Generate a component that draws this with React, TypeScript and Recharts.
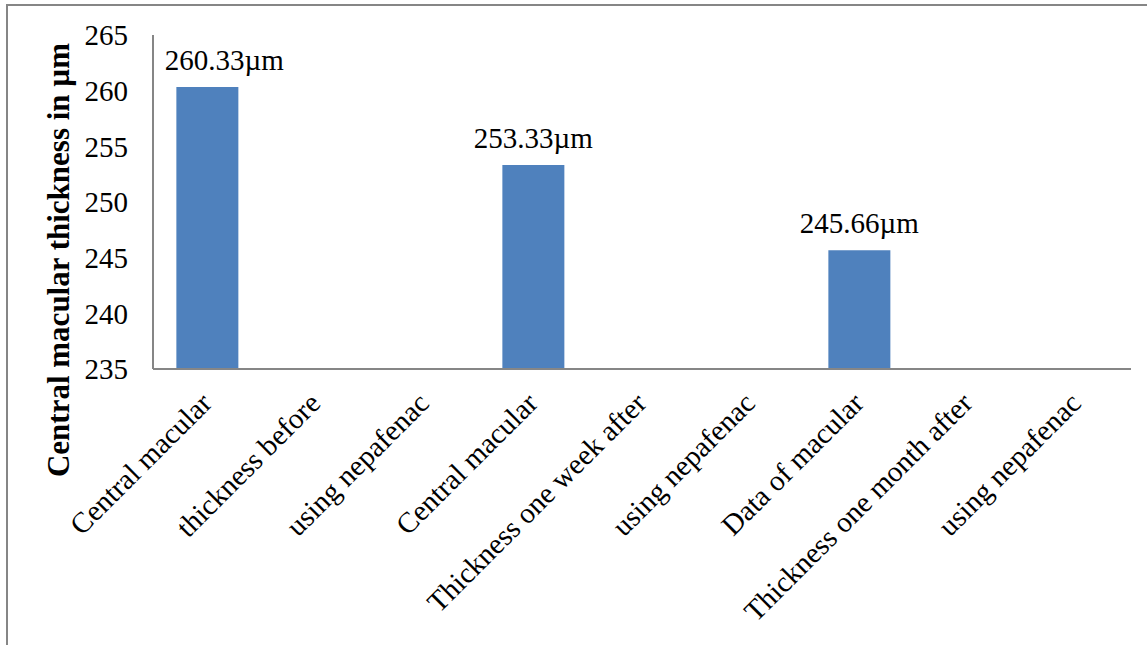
import React from "react";
import { BarChart, Bar, XAxis, YAxis, LabelList, Label } from "recharts";

const categories = [
  "Central macular",
  "thickness before",
  "using nepafenac",
  "Central macular",
  "Thickness one week after",
  "using nepafenac",
  "Data of macular",
  "Thickness one month after",
  "using nepafenac",
];
const thickness: (number | null)[] = [260.33, null, null, 253.33, null, null, 245.66, null, null];
const yTicks = [235, 240, 245, 250, 255, 260, 265];

const data = categories.map((c, i) => ({ label: c, value: thickness[i] }));

const FONT = "'Liberation Serif', 'Times New Roman', serif";
const AXIS = "#868686";

function XTick(props: any) {
  const { x, y, payload } = props;
  return (
    <g transform={`translate(${x + 6},${y + 28})`}>
      <text
        x={0}
        y={0}
        textAnchor="end"
        transform="rotate(-45)"
        fontFamily={FONT}
        fontSize={29}
        fill="#000"
      >
        {payload.value}
      </text>
    </g>
  );
}

function ValueLabel(props: any) {
  const { x, y, width, value, index } = props;
  if (value == null) return null;
  // the first label sits a little to the right of its bar in the original
  const shift = index === 0 ? 17 : 0;
  return (
    <text
      x={x + width / 2 + shift}
      y={y - 17}
      textAnchor="middle"
      fontFamily={FONT}
      fontSize={29}
      fill="#000"
    >
      {value.toFixed(2)}µm
    </text>
  );
}

export default function App() {
  return (
    <div style={{ position: "absolute", left: 0, top: 0, width: 1147, height: 645, background: "#fff" }}>
      <div
        style={{
          position: "absolute",
          left: 6,
          top: 4,
          width: 1141,
          height: 641,
          borderTop: `2px solid ${AXIS}`,
          borderLeft: `2px solid ${AXIS}`,
          boxSizing: "border-box",
        }}
      />
      <div style={{ position: "absolute", left: 0, top: 0 }}>
        <BarChart
          width={1147}
          height={645}
          data={data}
          margin={{ top: 35, right: 16, left: 0, bottom: 0 }}
          barCategoryGap="21.5%"
        >
          <XAxis
            dataKey="label"
            interval={0}
            height={276}
            axisLine={{ stroke: AXIS, strokeWidth: 2 }}
            tickLine={false}
            tick={<XTick />}
          />
          <YAxis
            domain={[235, 265]}
            ticks={yTicks}
            width={153}
            axisLine={{ stroke: AXIS, strokeWidth: 2 }}
            tickLine={false}
            tickSize={0}
            tickMargin={25}
            tick={{ fontFamily: FONT, fontSize: 29, fill: "#000" }}
          >
            <Label
              content={() => (
                <text
                  x={69}
                  y={260}
                  textAnchor="middle"
                  transform="rotate(-90 69 260)"
                  fontFamily={FONT}
                  fontWeight="bold"
                  fontSize={31}
                  fill="#000"
                >
                  Central macular thickness in µm
                </text>
              )}
            />
          </YAxis>
          <Bar dataKey="value" fill="#4F81BD" isAnimationActive={false}>
            <LabelList dataKey="value" content={<ValueLabel />} />
          </Bar>
        </BarChart>
      </div>
    </div>
  );
}
